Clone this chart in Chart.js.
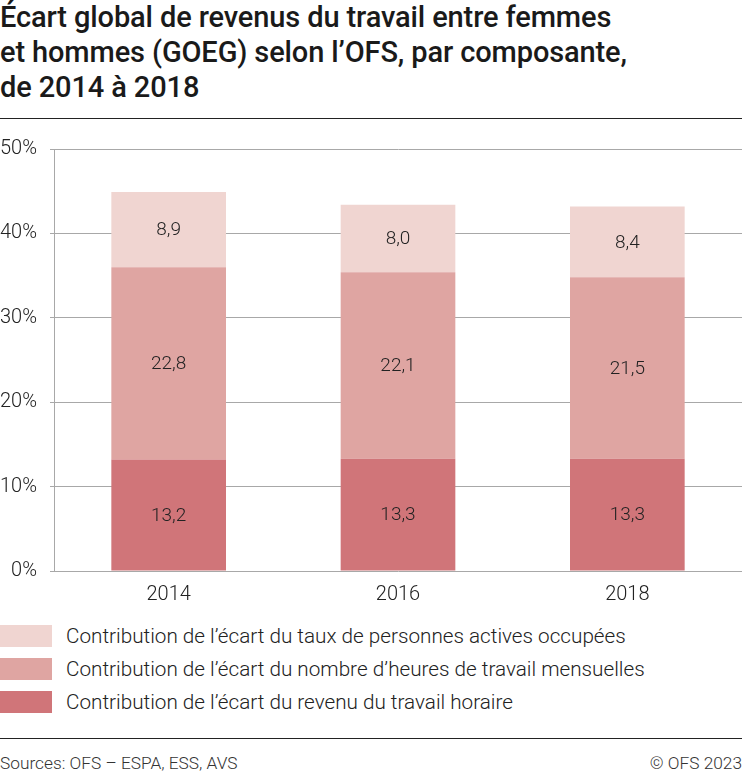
<!DOCTYPE html>
<html>
<head>
<meta charset="utf-8">
<script src="https://cdn.jsdelivr.net/npm/chart.js@4/dist/chart.umd.min.js"></script>
<style>
  html, body { margin: 0; padding: 0; background: #fff; }
  body { width: 742px; height: 774px; position: relative; overflow: hidden; font-family: Roboto, "Noto Sans", sans-serif; color: #222; }
  #title { position: absolute; left: 0; top: 0; font-size: 29px; font-weight: 500; line-height: 35px; color: #1a1a1a; letter-spacing: -0.12px; white-space: nowrap; }
  .rule { position: absolute; left: 0; width: 742px; border-top: 1.5px solid #222; }
  #wrap { position: absolute; left: 0; top: 124px; width: 742px; height: 482px; }
  #legend { position: absolute; left: 0; top: 625px; }
  .lg { position: relative; height: 33px; }
  .lg .box { position: absolute; left: 0; top: 0; width: 52px; height: 22px; }
  .lg .txt { position: absolute; left: 66px; top: -2px; font-size: 20.7px; font-weight: 300; line-height: 26px; color: #222; white-space: nowrap; }
  #src { position: absolute; left: 0; top: 753px; font-size: 17.3px; font-weight: 300; color: #333; white-space: nowrap; }
  #copy { position: absolute; right: 0; top: 753px; font-size: 17.3px; font-weight: 300; color: #333; white-space: nowrap; }
</style>
</head>
<body>
<div id="title">Écart global de revenus du travail entre femmes<br>et hommes (GOEG) selon l’OFS, par composante,<br>de 2014 à 2018</div>
<div class="rule" style="top:118px"></div>
<div id="wrap"><canvas id="c"></canvas></div>
<div id="legend"></div>
<div class="rule" style="top:738px"></div>
<div id="src">Sources: OFS – ESPA, ESS, AVS</div>
<div id="copy">© OFS 2023</div>
<script>
const categories = ["2014", "2016", "2018"];
const hourlyIncome = [13.2, 13.3, 13.3];
const monthlyHours = [22.8, 22.1, 21.5];
const activeRate = [8.9, 8.0, 8.4];
const yTicks = [0, 10, 20, 30, 40, 50];
const seriesLabels = [
  "Contribution de l’écart du revenu du travail horaire",
  "Contribution de l’écart du nombre d’heures de travail mensuelles",
  "Contribution de l’écart du taux de personnes actives occupées"
];
const seriesColors = ["#d07579", "#dfa5a2", "#f0d5d1"];

const valueLabels = {
  id: 'valueLabels',
  afterDatasetsDraw(chart) {
    const ctx = chart.ctx;
    ctx.save();
    ctx.font = '300 19px Roboto';
    ctx.fillStyle = '#222';
    ctx.textAlign = 'center';
    ctx.textBaseline = 'middle';
    chart.data.datasets.forEach((ds, i) => {
      chart.getDatasetMeta(i).data.forEach((el, j) => {
        const p = el.getCenterPoint();
        ctx.fillText(ds.data[j].toFixed(1).replace('.', ','), p.x, p.y + 1);
      });
    });
    ctx.restore();
  }
};

const datasets = [hourlyIncome, monthlyHours, activeRate].map((d, i) => ({
  label: seriesLabels[i],
  data: d,
  backgroundColor: seriesColors[i],
  borderWidth: 0,
  categoryPercentage: 1,
  barPercentage: 0.5
}));

new Chart(document.getElementById('c'), {
  type: 'bar',
  data: { labels: categories, datasets },
  plugins: [valueLabels],
  options: {
    responsive: true,
    maintainAspectRatio: false,
    animation: false,
    layout: { padding: { top: 10, right: 0, left: 0, bottom: 0 } },
    plugins: { legend: { display: false }, tooltip: { enabled: false } },
    scales: {
      x: {
        stacked: true,
        grid: { display: false },
        border: { display: false },
        ticks: { font: { family: 'Roboto', size: 20, weight: 300 }, color: '#222', padding: 4 },
        afterFit(s) { s.height = 35; }
      },
      y: {
        stacked: true,
        min: 0, max: 50,
        afterBuildTicks(s) { s.ticks = yTicks.map(v => ({ value: v })); },
        grid: { color: '#a8a8a8', lineWidth: 1, tickLength: 4 },
        border: { display: true, color: '#a8a8a8', width: 1 },
        ticks: {
          font: { family: 'Roboto', size: 20, weight: 300 }, color: '#222', padding: 13,
          callback: v => v + '%'
        },
        afterFit(s) { s.width = 54; }
      }
    }
  }
});

const lg = document.getElementById('legend');
for (let i = seriesLabels.length - 1; i >= 0; i--) {
  const row = document.createElement('div');
  row.className = 'lg';
  row.innerHTML = '<div class="box" style="background:' + seriesColors[i] + '"></div><div class="txt"></div>';
  row.querySelector('.txt').textContent = seriesLabels[i];
  lg.appendChild(row);
}
</script>
</body>
</html>
